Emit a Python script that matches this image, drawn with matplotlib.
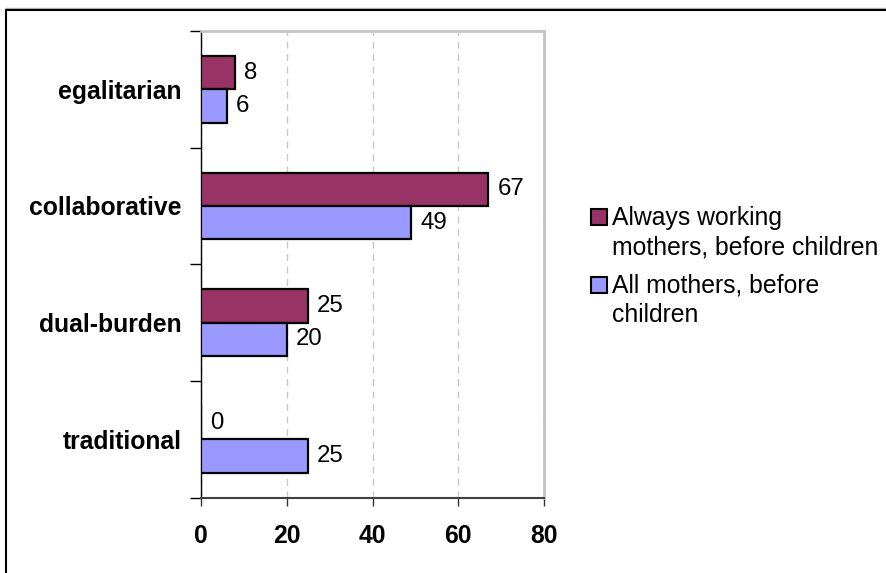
import numpy as np
import matplotlib
matplotlib.use("Agg")
import matplotlib.pyplot as plt
from matplotlib.lines import Line2D
from matplotlib.patches import Rectangle

plt.rcParams['font.family'] = ['Liberation Sans', 'DejaVu Sans']

categories = ['egalitarian', 'collaborative', 'dual-burden', 'traditional']
always_working = [8, 67, 25, 0]
all_mothers = [6, 49, 20, 25]
series_names = ['Always working\nmothers, before children', 'All mothers, before\nchildren']
colors = ['#993366', '#9999FF']
xticks = [0, 20, 40, 60, 80]

W, H = 886, 573
fig = plt.figure(figsize=(W / 100, H / 100), dpi=100)
ax = fig.add_axes([201 / W, 1 - 497.5 / H, (544 - 201) / W, (497.5 - 31) / H])

y = np.arange(len(categories))[::-1]
h = 0.286
b1 = ax.barh(y + h / 2, always_working, height=h, color=colors[0], edgecolor='black', linewidth=1.6, zorder=3)
b2 = ax.barh(y - h / 2, all_mothers, height=h, color=colors[1], edgecolor='black', linewidth=1.6, zorder=3)
ax.bar_label(b1, padding=6.5, fontsize=17.3)
ax.bar_label(b2, padding=6.5, fontsize=17.3)

ax.set_xlim(0, 80)
ax.set_ylim(-0.5, len(categories) - 0.5)
ax.set_xticks(xticks)
ax.set_xticklabels([str(t) for t in xticks], fontsize=17.8, fontweight='bold')
ax.tick_params(axis='x', direction='out', length=6, width=1, pad=13, color='#333333')

ax.set_yticks(y)
ax.set_yticklabels(categories, fontsize=17.8, fontweight='bold')
ax.tick_params(axis='y', which='major', length=0, pad=14)
ax.set_yticks(np.arange(-0.5, len(categories)), minor=True)
ax.tick_params(axis='y', which='minor', direction='out', length=8, width=1, color='black')

ax.set_axisbelow(True)
ax.xaxis.grid(True, color='#c8c8c8', linestyle=(0, (5, 4)), linewidth=1)

ax.spines['left'].set_color('black')
ax.spines['left'].set_linewidth(1)
ax.spines['bottom'].set_color('#404040')
ax.spines['bottom'].set_linewidth(1.5)
for s in ['top', 'right']:
    ax.spines[s].set_color('#c4c4c4')
    ax.spines[s].set_linewidth(2)

# legend (manual, square aligned with first line)
entries = [(colors[0], series_names[0], 209), (colors[1], series_names[1], 277)]
for col, label, top in entries:
    fig.add_artist(Rectangle((591 / W, 1 - (top + 16) / H), 16 / W, 16 / H,
                             facecolor=col, edgecolor='black', linewidth=1.5,
                             transform=fig.transFigure))
    for i, line in enumerate(label.split('\n')):
        fig.text(612 / W, 1 - (top + 16 + i * 29) / H, line, fontsize=17.8,
                 va='baseline', ha='left')

# outer frame lines
fig.add_artist(Line2D([6 / W, 1], [1 - 7.5 / H] * 2, color='#b8b8b8', linewidth=1, transform=fig.transFigure))
fig.add_artist(Line2D([6 / W, 1], [1 - 9.5 / H] * 2, color='black', linewidth=1.5, transform=fig.transFigure))
fig.add_artist(Line2D([6 / W, 6 / W], [0, 1 - 9.5 / H], color='black', linewidth=1.5, transform=fig.transFigure))

fig.savefig('out.png', dpi=100)
